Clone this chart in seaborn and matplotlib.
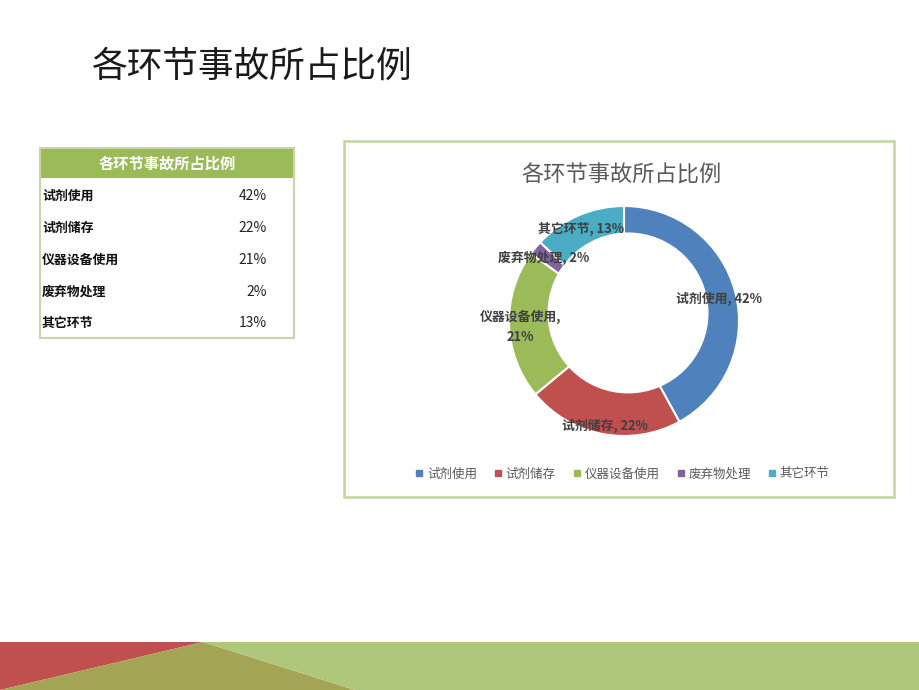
import numpy as np
import matplotlib
matplotlib.use("Agg")
import matplotlib.pyplot as plt
from matplotlib.patches import Rectangle, Polygon, Circle
from matplotlib.lines import Line2D
import seaborn as sns

# ---- data ----
categories = ["试剂使用", "试剂储存", "仪器设备使用", "废弃物处理", "其它环节"]
shares = [42, 22, 21, 2, 13]
value_labels = ["42%", "22%", "21%", "2%", "13%"]
title = "各环节事故所占比例"

sns.set_theme(style="white")
plt.rcParams['font.family'] = ['Noto Sans CJK SC', 'DejaVu Sans']

colors = sns.color_palette(["#4F81BD", "#C0504D", "#9BBB59", "#8064A2", "#4BACC6"])

W, H = 920, 690
fig = plt.figure(figsize=(9.2, 6.9), dpi=100)
fig.patch.set_facecolor("white")

def fx(x):
    return x / W

def fy(y):
    return 1 - y / H

# slide title
fig.text(fx(92), fy(67), title, fontsize=25.7, color="#1a1a1a", va="center", ha="left")

# bottom band
band = [
    ([(0, 642), (203, 642), (0, 690)], "#C0504D"),
    ([(203, 642), (0, 690), (355, 690)], "#A3A555"),
    ([(203, 642), (920, 642), (920, 690), (355, 690)], "#AFC77B"),
]
for pts, c in band:
    fig.patches.append(Polygon([(fx(x), fy(y)) for x, y in pts], closed=True,
                               transform=fig.transFigure, facecolor=c, edgecolor="none"))

# ---- table ----
tx0, tx1, ty0, ty1 = 40, 294, 148, 338
fig.patches.append(Rectangle((fx(tx0), fy(178)), fx(tx1 - tx0), (178 - ty0) / H,
                             transform=fig.transFigure, facecolor="#9BBB59", edgecolor="none"))
fig.patches.append(Rectangle((fx(tx0), fy(ty1)), fx(tx1 - tx0), (ty1 - ty0) / H,
                             transform=fig.transFigure, facecolor="none",
                             edgecolor="#C9D6A8", linewidth=1.5))
fig.text(fx(167), fy(163), title, fontsize=11, fontweight="bold", color="white",
         ha="center", va="center")
row_y = [196, 228, 260, 292, 323]
for cat, vl, ry in zip(categories, value_labels, row_y):
    fig.text(fx(42), fy(ry), cat, fontsize=9.3, fontweight="bold", color="#111111",
             ha="left", va="center")
    fig.text(fx(267), fy(ry), vl, fontsize=10, color="#222222", ha="right", va="center")

# ---- chart box ----
box = Rectangle((fx(344), fy(497)), fx(894 - 344), (497 - 141) / H,
                transform=fig.transFigure, facecolor="white",
                edgecolor="#C3D69B", linewidth=1.8, zorder=0.5)
fig.patches.append(box)
fig.text(fx(621), fy(175), title, fontsize=16, color="#595959", ha="center", va="center")

# donut axes
cx, cy, R = 624, 321, 115
half = 150
ax = fig.add_axes([fx(cx - half), fy(cy + half), fx(2 * half), (2 * half) / H])
ax.set_zorder(3)
ax.patch.set_alpha(0)
lim = half / R
wedges, _ = ax.pie(shares, colors=colors, startangle=90, counterclock=False,
                   radius=1.0, wedgeprops=dict(edgecolor="white", linewidth=1.5))
# inner hole (slightly offset as in the reference)
ax.add_patch(Circle((0.035, 0.07), 0.70, facecolor="white", edgecolor="none", zorder=3))
ax.set_xlim(-lim, lim)
ax.set_ylim(-lim, lim)
ax.set_aspect("equal")
ax.axis("off")

rmid = 0.87
label_texts = [f"{c}, {v}" for c, v in zip(categories, value_labels)]
label_texts[2] = f"{categories[2]},\n{value_labels[2]}"
offs = [(-0.02, -0.025), (0.0, -0.06), (-0.03, -0.025), (-0.03, -0.005), (-0.03, 0.0)]
for w, t, (dx, dy) in zip(wedges, label_texts, offs):
    ang = np.deg2rad((w.theta1 + w.theta2) / 2)
    x = rmid * np.cos(ang) + dx
    y = rmid * np.sin(ang) + dy
    ax.text(x, y, t, fontsize=9.3, fontweight="bold", color="#404040",
            ha="center", va="center", linespacing=1.6, zorder=5)

# legend
handles = [Line2D([0], [0], marker="s", linestyle="none", markersize=4.5,
                  markerfacecolor=c, markeredgecolor=c) for c in colors]
leg = fig.legend(handles, categories, loc="center", bbox_to_anchor=(fx(622), fy(474)),
                 ncol=5, frameon=False, fontsize=9, labelcolor="#595959",
                 handletextpad=0.2, columnspacing=1.3, handlelength=0.8)
leg.set_zorder(4)

fig.savefig("out.png", dpi=100)
